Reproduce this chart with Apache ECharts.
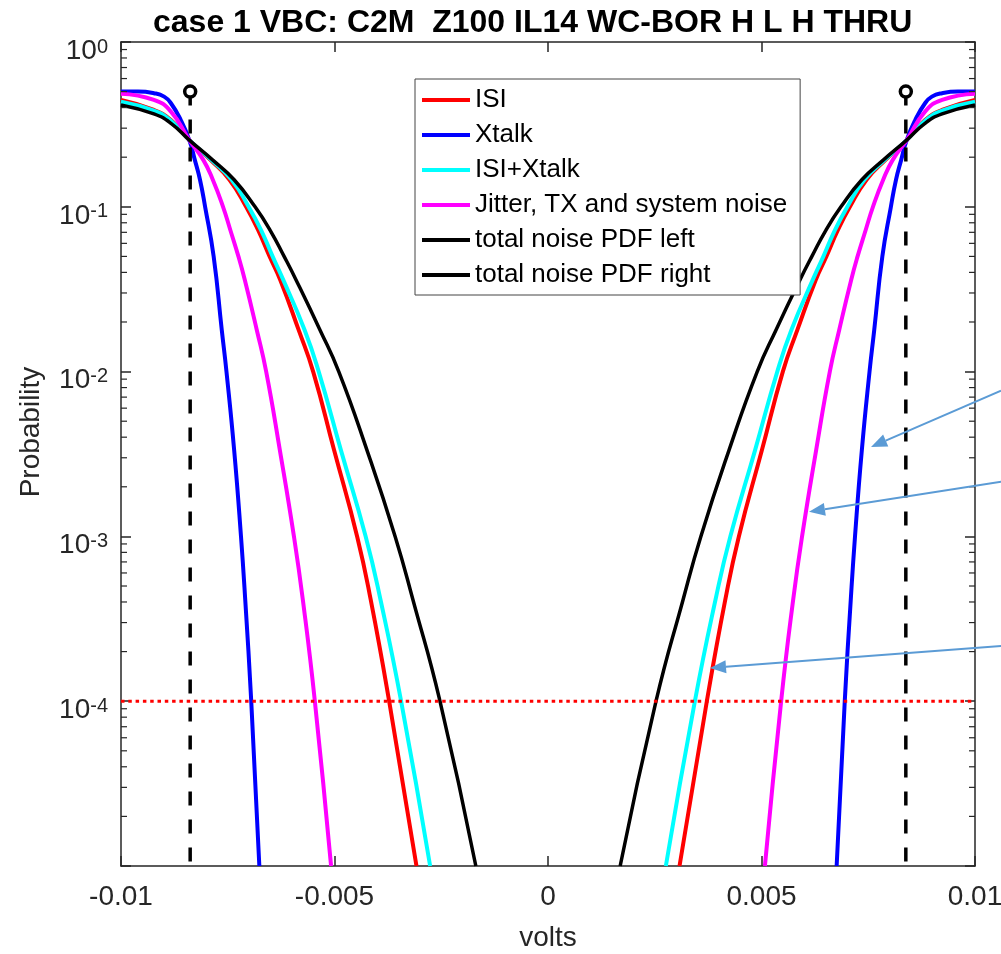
<!DOCTYPE html>
<html>
<head>
<meta charset="utf-8">
<script src="https://cdn.jsdelivr.net/npm/echarts@6/dist/echarts.min.js"></script>
<style>
html, body { margin: 0; padding: 0; background: #fff; }
#main { width: 1001px; height: 954px; }
</style>
</head>
<body>
<div id="main"></div>
<script>
var chart = echarts.init(document.getElementById('main'));

// left half of each curve (volts, probability);
// the right half is the same curve mirrored about 0 V
var isiV = [-0.01, -0.00923, -0.00883, -0.0084, -0.0079, -0.00746, -0.00707, -0.00679, -0.00652, -0.00627, -0.00584, -0.0055, -0.00501, -0.00447, -0.00415, -0.00372, -0.00308];
var isiP = [0.445, 0.387, 0.336, 0.254, 0.192, 0.146, 0.1, 0.0723, 0.05, 0.036, 0.0179, 0.01, 0.00334, 0.001, 0.00041, 0.0001, 0.00001];

var xtalkV = [-0.01, -0.0096, -0.00923, -0.00899, -0.00883, -0.0086, -0.0084, -0.00827, -0.00815, -0.00803, -0.00783, -0.00764, -0.00753, -0.00735, -0.00719, -0.00709, -0.00695, -0.00676];
var xtalkP = [0.5, 0.5, 0.489, 0.466, 0.425, 0.336, 0.254, 0.192, 0.146, 0.1, 0.05, 0.0179, 0.01, 0.00334, 0.001, 0.00041, 0.0001, 0.00001];

var bothV = [-0.01, -0.00923, -0.00883, -0.0084, -0.00788, -0.00741, -0.00701, -0.00672, -0.00645, -0.0062, -0.0057, -0.00537, -0.00485, -0.00427, -0.00392, -0.00344, -0.00276];
var bothP = [0.434, 0.383, 0.333, 0.254, 0.192, 0.146, 0.1, 0.0723, 0.05, 0.036, 0.0179, 0.01, 0.00334, 0.001, 0.00041, 0.0001, 0.00001];

var jitV = [-0.01, -0.00923, -0.00883, -0.0084, -0.00807, -0.00785, -0.00761, -0.00744, -0.00725, -0.0071, -0.00682, -0.0066, -0.00628, -0.00595, -0.00574, -0.00546, -0.00508];
var jitP = [0.485, 0.445, 0.378, 0.254, 0.192, 0.146, 0.1, 0.0723, 0.05, 0.036, 0.0179, 0.01, 0.00334, 0.001, 0.00041, 0.0001, 0.00001];

var totV = [-0.01, -0.00923, -0.00883, -0.0084, -0.00785, -0.00735, -0.00686, -0.00651, -0.00618, -0.0059, -0.00534, -0.0049, -0.00424, -0.00358, -0.00316, -0.00253, -0.00169];
var totP = [0.415, 0.366, 0.321, 0.254, 0.192, 0.146, 0.1, 0.0723, 0.05, 0.036, 0.0179, 0.01, 0.00334, 0.001, 0.00041, 0.0001, 0.00001];

// sampling points (dashed markers) and the 1e-4 target line
var sampleV = [-0.00838, 0.00838];
var sampleP = 0.5;
var targetP = 1e-4;

// annotation arrows: [from volts, from prob, to volts, to prob]
var arrows = [
    [0.01061, 7.66e-3, 0.007565, 3.49e-3],
    [0.01061, 2.15e-3, 0.006113, 1.41e-3],
    [0.01061, 2.16e-4, 0.003794, 1.59e-4]
];

var xMin = -0.01, xMax = 0.01, yMin = 1e-5, yMax = 1;
var fontFam = 'Liberation Sans, Arial, sans-serif';
var axisColor = '#262626';

function leftPart(v, p) {
    return v.map(function (x, i) { return [x, p[i]]; });
}
function rightPart(v, p) {
    return v.map(function (x, i) { return [-x, p[i]]; }).reverse();
}

// minor log ticks 2..9 in each decade
var minorTicks = [];
for (var k = -5; k < 0; k++) {
    for (var m = 2; m <= 9; m++) {
        minorTicks.push([0, m * Math.pow(10, k)]);
    }
}

function curve(name, color, data, width) {
    return {
        name: name,
        type: 'line',
        data: data,
        smooth: 0.5,
        showSymbol: false,
        symbol: 'none',
        color: color,
        lineStyle: { color: color, width: width },
        itemStyle: { color: color },
        emphasis: { disabled: true },
        z: 3
    };
}

var series = [
    curve('ISI', '#ff0000', leftPart(isiV, isiP), 4),
    curve('ISI', '#ff0000', rightPart(isiV, isiP), 4),
    curve('Xtalk', '#0000ff', leftPart(xtalkV, xtalkP), 4),
    curve('Xtalk', '#0000ff', rightPart(xtalkV, xtalkP), 4),
    curve('ISI+Xtalk', '#00ffff', leftPart(bothV, bothP), 4),
    curve('ISI+Xtalk', '#00ffff', rightPart(bothV, bothP), 4),
    curve('Jitter, TX and system noise', '#ff00ff', leftPart(jitV, jitP), 4),
    curve('Jitter, TX and system noise', '#ff00ff', rightPart(jitV, jitP), 4),
    curve('total noise PDF left', '#000000', leftPart(totV, totP), 3.5),
    curve('total noise PDF right', '#000000', rightPart(totV, totP), 3.5)
];

sampleV.forEach(function (v) {
    series.push({
        type: 'line',
        data: [
            { value: [v, sampleP], symbol: 'circle', symbolSize: 11 },
            { value: [v, yMin], symbol: 'none' }
        ],
        showSymbol: true,
        lineStyle: { color: '#000', width: 3.5, type: [14, 14] },
        itemStyle: { color: '#fff', borderColor: '#000', borderWidth: 3.5 },
        emphasis: { disabled: true },
        silent: true,
        z: 4
    });
});

series.push({
    type: 'line',
    data: [[xMin, targetP], [xMax, targetP]],
    symbol: 'none',
    lineStyle: { color: '#ff0000', width: 3, type: [3.5, 3.8] },
    emphasis: { disabled: true },
    silent: true,
    z: 4
});

series.push({
    type: 'custom',
    data: minorTicks,
    encode: { x: 0, y: 1 },
    silent: true,
    z: 5,
    renderItem: function (params, api) {
        var pl = api.coord([xMin, api.value(1)]);
        var pr = api.coord([xMax, api.value(1)]);
        var st = { stroke: axisColor, lineWidth: 1.2 };
        return {
            type: 'group',
            children: [
                { type: 'line', shape: { x1: pl[0], y1: pl[1], x2: pl[0] + 6, y2: pl[1] }, style: st },
                { type: 'line', shape: { x1: pr[0], y1: pr[1], x2: pr[0] - 6, y2: pr[1] }, style: st }
            ]
        };
    }
});

series.push({
    type: 'custom',
    data: arrows,
    encode: { x: [0, 2], y: [1, 3] },
    silent: true,
    clip: false,
    z: 6,
    renderItem: function (params, api) {
        var a = api.coord([api.value(0), api.value(1)]);
        var b = api.coord([api.value(2), api.value(3)]);
        var dx = b[0] - a[0], dy = b[1] - a[1];
        var len = Math.sqrt(dx * dx + dy * dy);
        var ux = dx / len, uy = dy / len;
        var hl = 16, hw = 6.5;
        var bx = b[0] - ux * hl, by = b[1] - uy * hl;
        return {
            type: 'group',
            children: [
                { type: 'line', shape: { x1: a[0], y1: a[1], x2: bx, y2: by }, style: { stroke: '#5b9bd5', lineWidth: 2 } },
                { type: 'polygon', shape: { points: [[b[0], b[1]], [bx - uy * hw, by + ux * hw], [bx + uy * hw, by - ux * hw]] }, style: { fill: '#5b9bd5' } }
            ]
        };
    }
});

var option = {
    animation: false,
    backgroundColor: '#fff',
    title: {
        text: 'case 1 VBC: C2M  Z100 IL14 WC-BOR H L H THRU',
        left: 153,
        top: 7,
        padding: 0,
        textStyle: { fontFamily: fontFam, fontWeight: 'bold', fontSize: 32, color: '#000' }
    },
    legend: {
        data: ['ISI', 'Xtalk', 'ISI+Xtalk', 'Jitter, TX and system noise', 'total noise PDF left', 'total noise PDF right'],
        orient: 'vertical',
        left: 415,
        top: 79,
        padding: [8, 13, 7, 7],
        itemGap: 9,
        itemWidth: 48,
        itemHeight: 4,
        icon: 'rect',
        backgroundColor: '#fff',
        borderColor: '#444',
        borderWidth: 1,
        borderRadius: 0,
        selectedMode: false,
        textStyle: { fontFamily: fontFam, fontSize: 26, lineHeight: 26, color: '#000' }
    },
    grid: { left: 121, right: 26, top: 42, bottom: 88, containLabel: false, outerBoundsMode: 'none' },
    xAxis: [{
        type: 'value',
        min: xMin,
        max: xMax,
        interval: 0.005,
        position: 'bottom',
        name: 'volts',
        nameLocation: 'middle',
        nameGap: 58,
        nameTextStyle: { fontFamily: fontFam, fontSize: 28, color: axisColor },
        axisLine: { show: true, onZero: false, lineStyle: { color: axisColor, width: 1.5 } },
        axisTick: { show: true, inside: true, length: 10, lineStyle: { color: axisColor, width: 1.5 } },
        axisLabel: { color: axisColor, fontFamily: fontFam, fontSize: 28, margin: 17 },
        splitLine: { show: false }
    }, {
        type: 'value',
        min: xMin,
        max: xMax,
        interval: 0.005,
        position: 'top',
        axisLine: { show: true, onZero: false, lineStyle: { color: axisColor, width: 1.5 } },
        axisTick: { show: true, inside: true, length: 10, lineStyle: { color: axisColor, width: 1.5 } },
        axisLabel: { show: false },
        splitLine: { show: false }
    }],
    yAxis: [{
        type: 'log',
        logBase: 10,
        min: yMin,
        max: yMax,
        position: 'left',
        name: 'Probability',
        nameLocation: 'middle',
        nameGap: 76,
        nameTextStyle: { fontFamily: fontFam, fontSize: 28, color: axisColor, padding: [0, 0, 0, 44] },
        axisLine: { show: true, onZero: false, lineStyle: { color: axisColor, width: 1.5 } },
        axisTick: { show: true, inside: true, length: 10, lineStyle: { color: axisColor, width: 1.5 } },
        axisLabel: {
            margin: 13,
            color: axisColor,
            padding: [18, 0, 0, 0],
            formatter: function (v) {
                var e = Math.round(Math.log10(v));
                if (e === -5) return '';
                return '{b|10}{s|' + e + '}';
            },
            rich: {
                b: { fontFamily: fontFam, fontSize: 28, lineHeight: 28, color: axisColor, verticalAlign: 'bottom' },
                s: { fontFamily: fontFam, fontSize: 20, lineHeight: 20, color: axisColor, verticalAlign: 'top', padding: [0, 0, 14, 0] }
            }
        },
        splitLine: { show: false }
    }, {
        type: 'log',
        logBase: 10,
        min: yMin,
        max: yMax,
        position: 'right',
        axisLine: { show: true, onZero: false, lineStyle: { color: axisColor, width: 1.5 } },
        axisTick: { show: true, inside: true, length: 10, lineStyle: { color: axisColor, width: 1.5 } },
        axisLabel: { show: false },
        splitLine: { show: false }
    }],
    series: series
};

chart.setOption(option);
</script>
</body>
</html>
